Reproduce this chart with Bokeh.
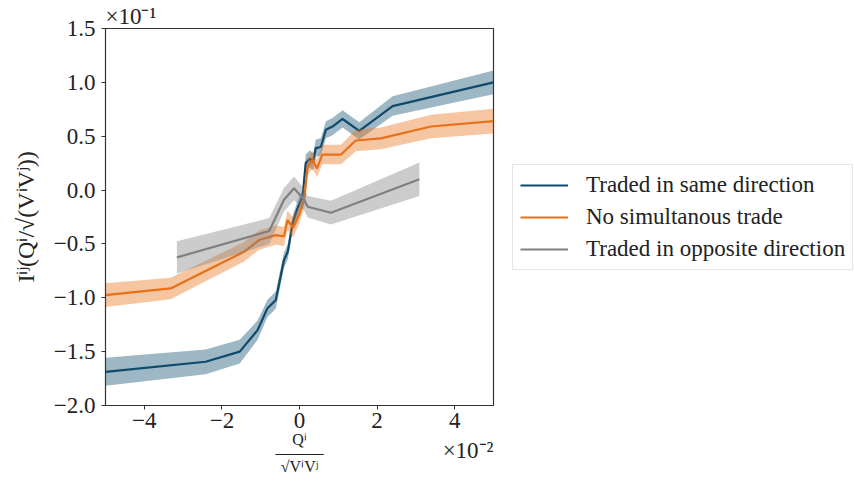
from bokeh.plotting import figure
from bokeh.models import (ColumnDataSource, Legend, LegendItem, Label, FixedTicker, Title,
                          CustomJSTickFormatter, Range1d)
from bokeh.embed import file_html
from bokeh.resources import INLINE

# x values in units of 1e-2, y values in units of 1e-1
x_same = [-5.0, -2.42, -1.54, -1.08, -0.83, -0.61, -0.40, -0.30, -0.18, -0.05, 0.08, 0.16,
          0.27, 0.35, 0.42, 0.55, 0.68, 0.85, 1.11, 1.54, 2.40, 5.0]
y_same = [-1.687, -1.594, -1.50, -1.30, -1.10, -1.02, -0.65, -0.57, -0.31, -0.17, -0.06, 0.25,
          0.29, 0.26, 0.39, 0.40, 0.56, 0.59, 0.66, 0.55, 0.78, 1.00]
err_same = [0.13, 0.115, 0.11, 0.09, 0.08, 0.08, 0.07, 0.07, 0.07, 0.07, 0.07, 0.08,
            0.08, 0.08, 0.08, 0.08, 0.08, 0.08, 0.08, 0.08, 0.09, 0.11]

x_none = [-5.0, -3.32, -1.43, -1.04, -0.61, -0.40, -0.31, -0.16, -0.01, 0.12, 0.21, 0.34,
          0.45, 0.59, 1.07, 1.45, 2.10, 3.39, 5.0]
y_none = [-0.975, -0.913, -0.573, -0.464, -0.418, -0.43, -0.28, -0.35, -0.23, -0.09, 0.22, 0.28,
          0.20, 0.33, 0.33, 0.46, 0.48, 0.59, 0.64]
err_none = [0.11, 0.10, 0.09, 0.09, 0.09, 0.09, 0.09, 0.09, 0.08, 0.08, 0.08, 0.08,
            0.08, 0.09, 0.09, 0.10, 0.10, 0.11, 0.115]

x_opp = [-3.16, -0.78, -0.40, -0.14, 0.12, 0.21, 0.81, 3.09]
y_opp = [-0.625, -0.38, -0.09, 0.016, -0.09, -0.155, -0.21, 0.10]
err_opp = [0.15, 0.12, 0.11, 0.11, 0.10, 0.10, 0.11, 0.155]

labels = ["Traded in same direction", "No simultanous trade", "Traded in opposite direction"]
colors = ["#0d4a6b", "#e87019", "#808080"]

x_ticks = [-4, -2, 0, 2, 4]
y_ticks = [-2.0, -1.5, -1.0, -0.5, 0.0, 0.5, 1.0, 1.5]

FONT = "Liberation Serif"
TXT = "#222222"

p = figure(frame_width=388, frame_height=377, output_backend="svg", toolbar_location=None,
           x_range=Range1d(-5, 5), y_range=Range1d(-2.0, 1.5),
           min_border_left=105, min_border_right=0, min_border_top=28, min_border_bottom=76)
p.grid.visible = False
p.outline_line_color = "#333333"
p.outline_line_width = 1.2
p.background_fill_color = "white"
p.border_fill_color = "white"

items = []
series = [(x_same, y_same, err_same), (x_none, y_none, err_none), (x_opp, y_opp, err_opp)]
for (xs, ys, es), lab, col in zip(series, labels, colors):
    lo = [y - e for y, e in zip(ys, es)]
    hi = [y + e for y, e in zip(ys, es)]
    src = ColumnDataSource(dict(x=xs, y=ys, lo=lo, hi=hi))
    p.varea(x="x", y1="lo", y2="hi", source=src, fill_color=col, fill_alpha=0.4)
    r = p.line(x="x", y="y", source=src, line_color=col, line_width=2.2)
    items.append(LegendItem(label=lab, renderers=[r]))

for ax in (p.xaxis[0], p.yaxis[0]):
    ax.major_label_text_font = FONT
    ax.major_label_text_font_size = "23px"
    ax.major_label_text_color = TXT
    ax.axis_line_color = "#333333"
    ax.major_tick_line_color = "#333333"
    ax.major_tick_out = 4
    ax.major_tick_in = 0
    ax.minor_tick_line_color = None
    ax.axis_label_text_font = FONT
    ax.axis_label_text_font_style = "normal"
    ax.axis_label_text_color = TXT

p.xaxis.ticker = FixedTicker(ticks=x_ticks)
p.yaxis.ticker = FixedTicker(ticks=y_ticks)
p.xaxis.formatter = CustomJSTickFormatter(
    code="return (tick < 0 ? '\u2212' : '') + Math.abs(tick).toFixed(0);")
p.yaxis.formatter = CustomJSTickFormatter(
    code="return (tick < 0 ? '\u2212' : '') + Math.abs(tick).toFixed(1);")
p.xaxis.major_label_standoff = 3
p.yaxis.major_label_standoff = 6

p.yaxis.axis_label = "Iⁱʲ(Qⁱ/√(VⁱVʲ))"
p.yaxis.axis_label_text_font_size = "24px"
p.yaxis.axis_label_standoff = 12

p.xaxis.axis_label = "Qⁱ\n―――\n√VⁱVʲ"
p.xaxis.axis_label_text_font_size = "16px"
p.xaxis.axis_label_text_line_height = 0.8
p.xaxis.axis_label_standoff = 0

p.add_layout(Title(text="×10⁻¹", align="left", text_font=FONT, text_font_size="23px",
                   text_font_style="normal", text_color=TXT, standoff=0), "above")

p.add_layout(Label(x=5.0, y=-2.3, text="×10⁻²",
                   text_font=FONT, text_font_size="23px", text_color=TXT,
                   text_align="right", text_baseline="top"), "below")

legend = Legend(items=items, location="center_left", margin=19, padding=7, spacing=6,
                glyph_width=48, glyph_height=26, label_standoff=18,
                label_text_font=FONT, label_text_font_size="23px", label_text_color=TXT,
                border_line_color="#cccccc", border_line_width=1)
p.add_layout(legend, "right")

open("out.html", "w").write(file_html(p, INLINE))
